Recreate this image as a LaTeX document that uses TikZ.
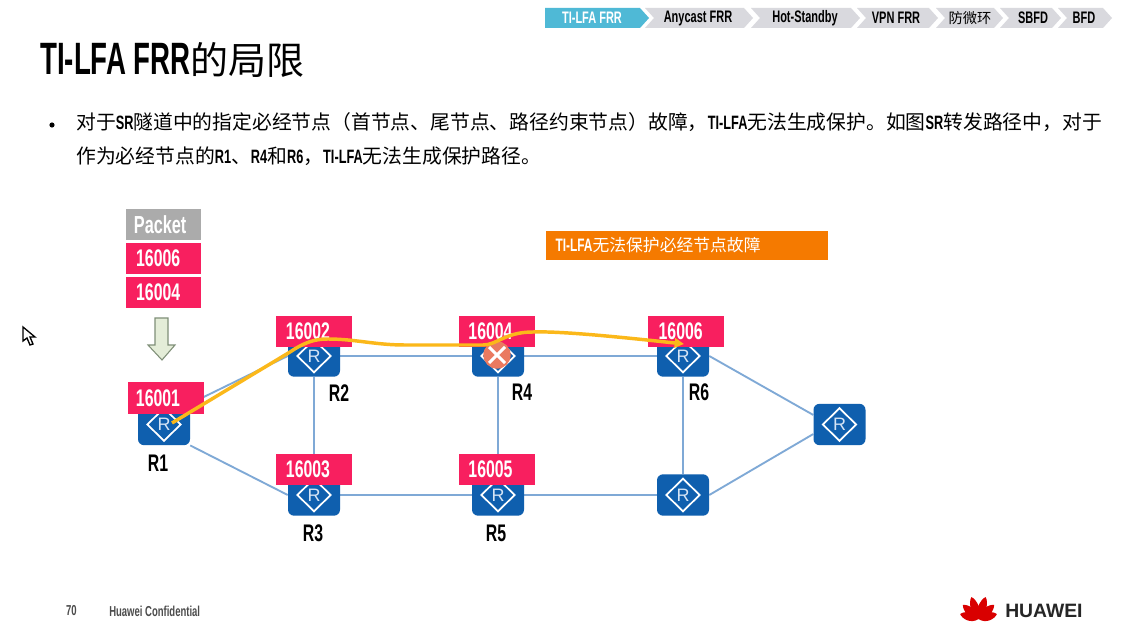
\documentclass[tikz,border=0pt]{standalone}
\usepackage{fontspec}
\setmainfont[FakeStretch=0.66,UprightFont={* Bold}]{Liberation Sans}
\newfontfamily\cjk{Noto Sans CJK SC}
\newfontfamily\logofont{Liberation Sans}
\newfontfamily\titlefont[FakeStretch=0.61,UprightFont={* Bold}]{Liberation Sans}
\usetikzlibrary{shapes.geometric,arrows.meta,backgrounds}
\definecolor{pinkred}{HTML}{F81F5F}
\definecolor{rblue}{HTML}{0F5FAE}
\definecolor{linkblue}{HTML}{7FA9D6}
\definecolor{navgray}{HTML}{D9D9DE}
\definecolor{navblue}{HTML}{4FB9D6}
\definecolor{gold}{HTML}{FBB81A}
\definecolor{bannerorange}{HTML}{F57A00}
\definecolor{packetgray}{HTML}{ABABAB}
\definecolor{arrowgreen}{HTML}{E4EDD8}
\definecolor{arrowedge}{HTML}{7F8F78}
\definecolor{failred}{HTML}{EA7A60}
\definecolor{rletter}{HTML}{D5E4F5}
\newcommand{\lat}[1]{{\rmfamily\fontsize{14.5}{14.5}\selectfont #1}}
\tikzset{
  x=0.75pt,y=-0.75pt,
  routerbox/.style={fill=rblue,rounded corners=4.5pt,minimum width=39pt,minimum height=31pt,inner sep=0pt},
  routermark/.style={diamond,draw=white,line width=1.3pt,minimum width=25.5pt,minimum height=25pt,inner sep=0pt,text=rletter,font=\logofont\fontsize{13.5}{13.5}\selectfont},
  sidbox/.style={fill=pinkred,text=white,minimum width=57pt,minimum height=23.5pt,inner sep=0pt,font=\fontsize{18}{18}\selectfont},
  rlabel/.style={font=\fontsize{18}{18}\selectfont,text=black,inner sep=0pt},
  linkline/.style={draw=linkblue,line width=1.4pt},
  pathline/.style={draw=gold,line width=2.6pt,-{Triangle[length=7pt,width=7pt]}},
  navtext/.style={font=\fontsize{12.5}{12.5}\selectfont,inner sep=0pt,text=black},
  bodytext/.style={anchor=west,inner sep=0pt,font=\cjk\fontsize{14.85}{14.85}\selectfont},
  foottext/.style={inner sep=0pt,text=black!70,font=\fontsize{10.8}{10.8}\selectfont},
  petal/.style={fill=red!85!black,draw=none},
}
\newcommand{\rtr}[3]{\node[routerbox] (#1) at (#2,#3) {}; \node[routermark] (#1m) at (#2,#3) {R};}
\newcommand{\chev}[3]{\fill[#3] (#1,8) -- (#2-9,8) -- (#2,18) -- (#2-9,28) -- (#1,28) -- (#1+9,18) -- cycle;}
\begin{document}
\begin{tikzpicture}
\useasboundingbox (0,0) rectangle (1146,627);
% nav
\fill[navblue] (545,8) -- (640,8) -- (649,18) -- (640,28) -- (545,28) -- cycle;
\chev{645}{753}{navgray}
\chev{751}{860}{navgray}
\chev{857}{938}{navgray}
\chev{936}{1003}{navgray}
\chev{1000}{1061}{navgray}
\chev{1058}{1112}{navgray}
\node[navtext,text=white] at (592,18) {TI-LFA FRR};
\node[navtext] at (698,18) {Anycast FRR};
\node[navtext] at (805,18) {Hot-Standby};
\node[navtext] at (896,18) {VPN FRR};
\node[navtext] at (970,18) {\cjk\fontsize{10.7}{10.7}\selectfont 防微环};
\node[navtext] at (1033,18) {SBFD};
\node[navtext] at (1084,18) {BFD};
% title
\node[anchor=west,inner sep=0pt,font=\titlefont\fontsize{34}{34}\selectfont] at (40,60) {TI-LFA FRR{\cjk\fontsize{28.5}{28.5}\selectfont 的局限}};
% body
\fill[black] (52,125) circle (2.6);
\node[bodytext] at (76,122) {对于\lat{SR}隧道中的指定必经节点（首节点、尾节点、路径约束节点）故障，\lat{TI-LFA}无法生成保护。如图\lat{SR}转发路径中，对于};
\node[bodytext] at (76,156) {作为必经节点的\lat{R1}、\lat{R4}和\lat{R6}，\lat{TI-LFA}无法生成保护路径。};
% packet stack
\node[fill=packetgray,text=white,minimum width=56.5pt,minimum height=23pt,inner sep=0pt,font=\fontsize{18.5}{18.5}\selectfont] (pkt) at (163.5,224.5) {\hspace*{-5pt}Packet};
\node[sidbox,minimum width=56.5pt] (s1) at (163.5,258.5) {\hspace*{-8pt}16006};
\node[sidbox,minimum width=56.5pt] (s2) at (163.5,292.5) {\hspace*{-8pt}16004};
\fill[arrowgreen,draw=arrowedge,line width=0.8pt] (155,318) -- (168,318) -- (168,345) -- (175,345) -- (162,360) -- (148,345) -- (155,345) -- cycle;
% banner
\node[fill=bannerorange,text=white,anchor=west,minimum width=211pt,minimum height=22pt,inner sep=0pt,text width=211pt,align=left,font=\fontsize{13.5}{13.5}\selectfont] (ban) at (546,245.5) {\hspace*{7pt}TI-LFA{\cjk\fontsize{12.6}{12.6}\selectfont 无法保护必经节点故障}};
% routers
\rtr{r1}{164}{424.5}
\rtr{r2}{314}{356}
\rtr{r3}{314}{495}
\rtr{r4}{498}{356}
\rtr{r5}{498}{495}
\rtr{r6}{683}{356}
\rtr{r7}{683}{495}
\rtr{r8}{839.5}{424.5}
% links and page ground, behind the routers
\begin{pgfonlayer}{background}
\fill[white] (0,0) rectangle (1146,627);
\draw[linkline] (r1.north east) -- (r2.west);
\draw[linkline] (r1.south east) -- (r3.west);
\draw[linkline] (r2) -- (r4);
\draw[linkline] (r4) -- (r6);
\draw[linkline] (r3) -- (r5);
\draw[linkline] (r5) -- (r7);
\draw[linkline] (r2) -- (r3);
\draw[linkline] (r4) -- (r5);
\draw[linkline] (r6) -- (r7);
\draw[linkline] (r6.east) -- (r8.160);
\draw[linkline] (r7.east) -- (r8.200);
\end{pgfonlayer}
% sid boxes
\node[sidbox] (b1) at (166,398) {\hspace*{-12pt}16001};
\node[sidbox] (b2) at (314,331.5) {\hspace*{-9pt}16002};
\node[sidbox] (b3) at (314,469.5) {\hspace*{-9pt}16003};
\node[sidbox] (b4) at (496.5,331.5) {\hspace*{-9pt}16004};
\node[sidbox] (b5) at (496.5,469.5) {\hspace*{-9pt}16005};
\node[sidbox] (b6) at (686,331.5) {\hspace*{-8pt}16006};
% router labels
\node[rlabel] at (158,463) {R1};
\node[rlabel] at (339,393) {R2};
\node[rlabel] at (313,533) {R3};
\node[rlabel] at (522,392) {R4};
\node[rlabel] at (496,533) {R5};
\node[rlabel] at (699,392) {R6};
% failure
\node[circle,fill=failred,minimum size=20.5pt,inner sep=0pt] (fail) at (497,355) {};
\draw[white,line width=2.2pt] (fail.center) ++(-8,-8) -- ++(16,16) ++(-16,0) -- ++(16,-16);
% protected path
\draw[pathline] (r1m.center) ++(8,-1.5) -- (290,352) .. controls (305,342) and (315,339) .. (328,339)
  .. controls (355,339) and (375,345) .. (405,345)
  -- (483,345) .. controls (497,345) and (505,332) .. (533,332)
  .. controls (560,331) and (620,337) .. (684,344);
% footer
\node[foottext] at (71.5,611) {70};
\node[foottext,anchor=west] at (109,611) {Huawei Confidential};
% logo
\foreach \a/\l in {-75/19,-48/21,-18/23,18/23,48/21,75/19}{
  \fill[petal,shift={(978.5,619)},rotate=\a] (0,0) .. controls (-7,-6) and (-4,-\l+3) .. (0,-\l) .. controls (4,-\l+3) and (7,-6) .. (0,0) -- cycle;
}
\node[anchor=west,inner sep=0pt,font=\logofont\bfseries\fontsize{14.5}{14.5}\selectfont,text=black!85] at (1005,611) {HUAWEI};
% cursor
\draw[black,line width=1pt,fill=white] (23,327) -- (23,341) -- (27,338) -- (30,345) -- (33,344) -- (30,337) -- (35,337) -- cycle;
\end{tikzpicture}
\end{document}
